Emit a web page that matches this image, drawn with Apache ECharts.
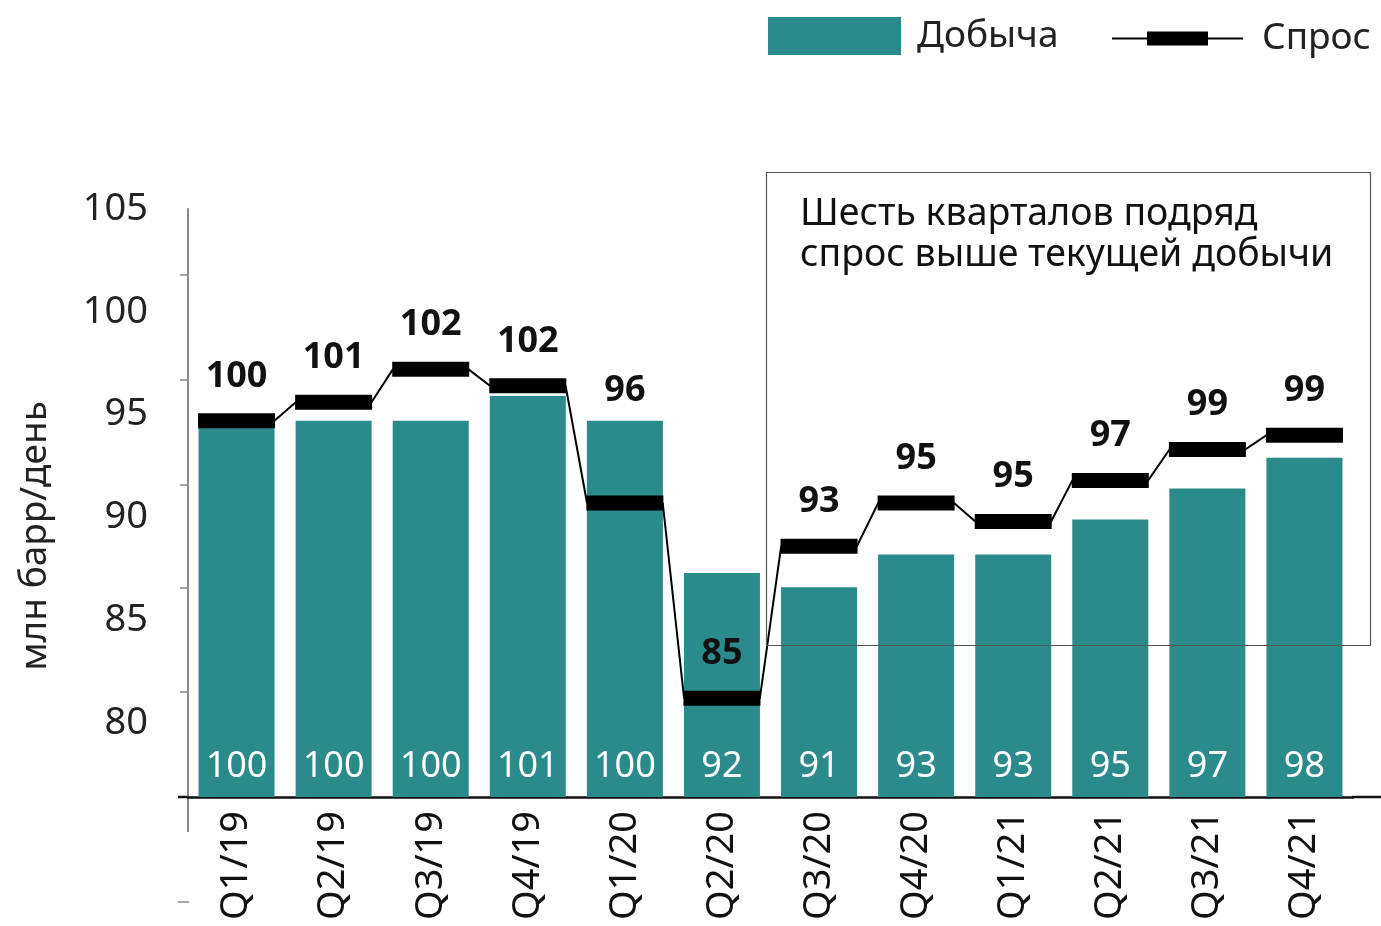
<!DOCTYPE html>
<html>
<head>
<meta charset="utf-8">
<script src="https://cdn.jsdelivr.net/npm/echarts@6/dist/echarts.min.js"></script>
<style>
  html, body { margin: 0; padding: 0; background: #fff; }
  #chart { width: 1381px; height: 926px; }
</style>
</head>
<body>
<div id="chart"></div>
<script>
// quarters on the x axis
const quarters = ["Q1/19", "Q2/19", "Q3/19", "Q4/19", "Q1/20", "Q2/20", "Q3/20", "Q4/20", "Q1/21", "Q2/21", "Q3/21", "Q4/21"];
// heights as drawn against the left axis
const production = [94.7, 94.7, 94.7, 95.9, 94.7, 87.3, 86.6, 88.2, 88.2, 89.9, 91.4, 92.9];
const demand = [94.7, 95.6, 97.2, 96.4, 90.7, 81.2, 88.6, 90.7, 89.8, 91.8, 93.3, 94.0];
// numbers printed on the chart
const productionLabels = [100, 100, 100, 101, 100, 92, 91, 93, 93, 95, 97, 98];
const demandLabels = [100, 101, 102, 102, 96, 85, 93, 95, 95, 97, 99, 99];
const yTicks = [80, 85, 90, 95, 100, 105];

const font = "Noto Sans";
const teal = "#2b8a8a";
const axisGray = "#8a8a8a";
const halfBar = 0.39;

const chart = echarts.init(document.getElementById("chart"));

// thin connector: runs along each marker and joins edge to edge
const connector = [];
demand.forEach((v, i) => {
  connector.push([i - halfBar, v], [i + halfBar, v]);
});

const options = {
  animation: false,
  textStyle: { fontFamily: font },
  legend: [
    {
      data: [{ name: "Добыча", icon: "rect" }],
      left: 768,
      top: 17,
      padding: 0,
      itemWidth: 133,
      itemHeight: 38,
      selectedMode: false,
      textStyle: { fontSize: 37, color: "#222", padding: [8, 0, 0, 11] },
    },
    {
      data: [{ name: "Спрос", icon: "path://M0,6h131v2h-131z M35,0h61v14h-61z" }],
      left: 1112,
      top: 20,
      padding: 0,
      itemWidth: 131,
      itemHeight: 14,
      selectedMode: false,
      itemStyle: { color: "#000", opacity: 1 },
      textStyle: { fontSize: 37, color: "#222", padding: [0, 0, 0, 14] },
    },
  ],
  grid: {
    left: 188,
    right: 28,
    top: 209,
    bottom: 129,
    containLabel: false,
  },
  xAxis: [
    {
      type: "category",
      data: quarters,
      axisLine: { onZero: false, lineStyle: { color: "#111", width: 2.5 } },
      axisTick: { show: false },
      axisLabel: {
        rotate: 90,
        margin: 14,
        fontSize: 38,
        color: "#111",
        interval: 0,
      },
    },
    {
      type: "value",
      min: -0.5,
      max: 11.5,
      show: false,
    },
  ],
  yAxis: {
    type: "value",
    min: 76.4,
    max: 105,
    axisLine: { show: true, onZero: false, lineStyle: { color: axisGray, width: 2 } },
    axisTick: {
      show: true,
      length: 8,
      customValues: [81.5, 86.6, 91.6, 96.7, 101.8],
      lineStyle: { color: axisGray, width: 1.5 },
    },
    axisLabel: {
      customValues: yTicks,
      fontSize: 38,
      color: "#222",
      margin: 40,
    },
    splitLine: { show: false },
  },
  series: [
    {
      name: "Добыча",
      type: "bar",
      data: production,
      barWidth: 76,
      itemStyle: { color: teal },
      label: {
        show: true,
        position: "insideBottom",
        distance: 12,
        fontSize: 36,
        color: "#fff",
        formatter: (p) => productionLabels[p.dataIndex],
      },
      z: 2,
    },
    {
      name: "Спрос",
      type: "line",
      xAxisIndex: 1,
      data: connector,
      symbol: "none",
      silent: true,
      lineStyle: { color: "#000", width: 2 },
      z: 3,
    },
    {
      name: "Спрос",
      type: "scatter",
      data: demand.map((v, i) => ({
        value: v,
        label: i === 4 ? { offset: [0, -68] } : undefined,
      })),
      symbol: "rect",
      symbolSize: [77, 15],
      itemStyle: { color: "#000", opacity: 1 },
      label: {
        show: true,
        position: "top",
        distance: 19,
        fontSize: 36,
        fontWeight: "bold",
        color: "#111",
        formatter: (p) => demandLabels[p.dataIndex],
      },
      z: 4,
    },
  ],
  graphic: [
    // y axis runs on below the baseline
    { type: "line", shape: { x1: 188, y1: 797, x2: 188, y2: 832 }, style: { stroke: axisGray, lineWidth: 2 }, silent: true },
    { type: "line", shape: { x1: 178, y1: 902, x2: 189, y2: 902 }, style: { stroke: axisGray, lineWidth: 1.5 }, silent: true },
    // baseline carries on to both edges
    { type: "line", shape: { x1: 178, y1: 797, x2: 189, y2: 797 }, style: { stroke: "#111", lineWidth: 2.5 }, silent: true },
    { type: "line", shape: { x1: 1352, y1: 797, x2: 1381, y2: 797 }, style: { stroke: "#111", lineWidth: 2.5 }, silent: true },
    {
      type: "text",
      x: 35,
      y: 536,
      rotation: Math.PI / 2,
      style: {
        text: "млн барр/день",
        fontFamily: font,
        fontSize: 37,
        fill: "#222",
        align: "center",
        verticalAlign: "middle",
      },
      silent: true,
    },
    {
      type: "rect",
      shape: { x: 766.5, y: 172.5, width: 604, height: 473 },
      style: { fill: "none", stroke: "#555", lineWidth: 1.2 },
      z: 100,
      silent: true,
    },
    {
      type: "text",
      x: 800,
      y: 194,
      style: {
        text: "Шесть кварталов подряд\nспрос выше текущей добычи",
        fontFamily: font,
        fontSize: 37.5,
        lineHeight: 41,
        fill: "#111",
      },
      z: 100,
      silent: true,
    },
  ],
};

chart.setOption(options);
</script>
</body>
</html>
